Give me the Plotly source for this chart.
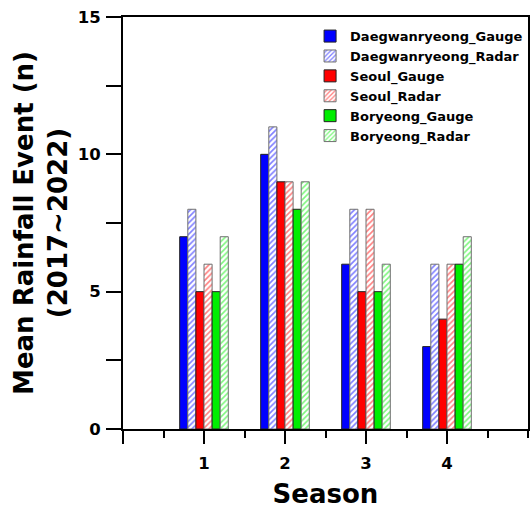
import plotly.graph_objects as go

seasons = [1, 2, 3, 4]
series_names = ["Daegwanryeong_Gauge", "Daegwanryeong_Radar", "Seoul_Gauge",
                "Seoul_Radar", "Boryeong_Gauge", "Boryeong_Radar"]
daeg_gauge = [7, 10, 6, 3]
daeg_radar = [8, 11, 8, 6]
seoul_gauge = [5, 9, 5, 4]
seoul_radar = [6, 9, 8, 6]
bory_gauge = [5, 8, 5, 6]
bory_radar = [7, 9, 6, 7]
values = [daeg_gauge, daeg_radar, seoul_gauge, seoul_radar, bory_gauge, bory_radar]
colors = ["#0000FF", "#0000FF", "#FF0000", "#FF0000", "#00EE00", "#00EE00"]
hatched = [False, True, False, True, False, True]

x_tickvals = [0, 1, 2, 3, 4]
x_ticktext = ["", "1", "2", "3", "4"]
y_tickvals = [0, 5, 10, 15]

FONT = "DejaVu Sans, Liberation Sans, Arial, sans-serif"

fig = go.Figure()
for name, vals, col, h in zip(series_names, values, colors, hatched):
    if h:
        marker = dict(color="white",
                      pattern=dict(shape="/", fgcolor=col, bgcolor="white",
                                   size=4, solidity=0.4, fillmode="overlay"),
                      line=dict(color="#707070", width=1))
    else:
        marker = dict(color=col, line=dict(color="#202020", width=1))
    fig.add_trace(go.Bar(x=seasons, y=vals, name=name, marker=marker, offsetgroup=name,
                         legendgroup=name))

fig.update_layout(
    width=531, height=510,
    margin=dict(l=123, r=1, t=17, b=81),
    paper_bgcolor="white", plot_bgcolor="white",
    barmode="group", bargap=0.4, bargroupgap=0,
    font=dict(family=FONT, color="black"),
    showlegend=True,
    legend=dict(x=(311 - 123) / 407, y=0.99, xanchor="left", yanchor="top",
                bgcolor="rgba(255,255,255,0)", borderwidth=0,
                font=dict(family=FONT, size=13, color="black", weight="bold"),
                tracegroupgap=0, itemwidth=30),
    xaxis=dict(range=[0, 5], tickvals=x_tickvals, ticktext=x_ticktext,
               ticks="outside", ticklen=13, tickwidth=2, tickcolor="black",
               ticklabelstandoff=5,
               minor=dict(dtick=0.5, tick0=0.5, ticks="outside", ticklen=7, tickwidth=2, tickcolor="black"),
               showline=True, linewidth=2, linecolor="black", mirror=True,
               showgrid=False, zeroline=False,
               tickfont=dict(family=FONT, size=16.5, color="black", weight="bold"),
               title=dict(text="Season", standoff=13,
                          font=dict(family=FONT, size=26, color="black", weight="bold"))),
    yaxis=dict(range=[0, 15], tickvals=y_tickvals,
               ticks="outside", ticklen=15, tickwidth=2, tickcolor="black",
               ticklabelstandoff=2,
               minor=dict(dtick=2.5, tick0=0, ticks="outside", ticklen=15, tickwidth=2, tickcolor="black"),
               showline=True, linewidth=2, linecolor="black", mirror=True,
               showgrid=False, zeroline=False,
               tickfont=dict(family=FONT, size=16.5, color="black", weight="bold"),
               title=dict(text="Mean Rainfall Event (n)<br>(2017~2022)", standoff=3,
                          font=dict(family=FONT, size=26, color="black", weight="bold"))),
)

fig.write_html("out.html")
